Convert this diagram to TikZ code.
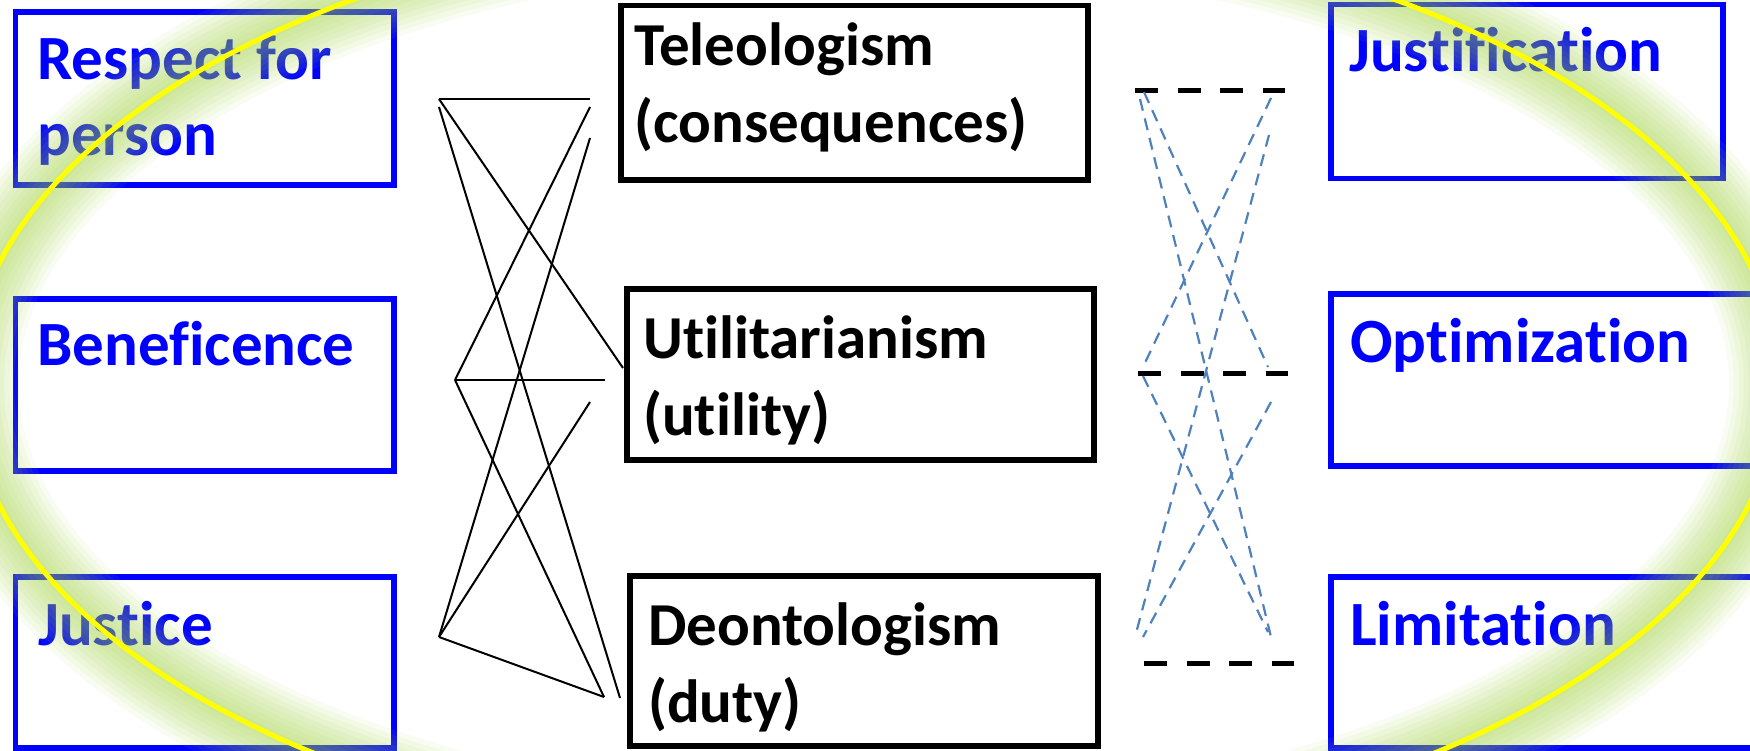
\documentclass[tikz,border=0pt]{standalone}
\usepackage{fontspec}
\setmainfont{Carlito}[Ligatures=NoCommon]
\definecolor{boxblue}{RGB}{0,0,255}
\definecolor{linkblue}{RGB}{79,129,189}
\definecolor{glowgreen}{RGB}{160,210,60}
\definecolor{ringyellow}{RGB}{255,255,0}
\begin{document}
\begin{tikzpicture}[x=1pt,y=-1pt,
  bluebox/.style={draw=boxblue, line width=5.5pt, inner sep=0pt, outer sep=0pt},
  blackbox/.style={draw=black, line width=5.5pt, inner sep=0pt, outer sep=0pt},
  bluetxt/.style={text=boxblue, font=\fontsize{63}{76}\selectfont\bfseries, inner sep=0pt, anchor=base west},
  blacktxt/.style={text=black, font=\fontsize{61}{77}\selectfont\bfseries, inner sep=0pt, anchor=base west},
  link/.style={black, line width=2pt},
  dlink/.style={linkblue, line width=2.2pt, dash pattern=on 12pt off 8pt},
  bar/.style={black, line width=5pt, dash pattern=on 23pt off 19.5pt},
  glow/.style={draw=glowgreen}
]
\useasboundingbox (0,0) rectangle (1750,751);
\fill[white] (0,0) rectangle (1750,751);

% principles (left column)
\node[bluebox, minimum width=378.5pt, minimum height=173pt] (resp) at (204.75,98.5) {};
\node[bluebox, minimum width=378.5pt, minimum height=172pt] (bene) at (204.75,385) {};
\node[bluebox, minimum width=378.5pt, minimum height=171pt] (just) at (204.75,662.5) {};
\node[bluetxt] (resptxt) at (37,80) {\parbox[t]{340pt}{Respect for\\person}};
\node[bluetxt] (benetxt) at (37,365) {Beneficence};
\node[bluetxt] (justtxt) at (38,645) {Justice};

% theories (middle column)
\node[blackbox, minimum width=467pt, minimum height=174.5pt] (tele) at (854.5,92.75) {};
\node[blackbox, minimum width=467pt, minimum height=171pt] (util) at (860.5,374.5) {};
\node[blackbox, minimum width=468pt, minimum height=170pt] (deon) at (864,661) {};
\node[blacktxt] (teletxt) at (634,66) {\parbox[t]{440pt}{Teleologism\\(consequences)}};
\node[blacktxt] (utiltxt) at (643,358) {\parbox[t]{440pt}{Utilitarianism\\(utility)}};
\node[blacktxt] (deontxt) at (648,645) {\parbox[t]{440pt}{Deontologism\\(duty)}};

% outcomes (right column)
\node[bluebox, minimum width=392pt, minimum height=174pt] (justif) at (1527,91.5) {};
\node[bluebox, minimum width=434pt, minimum height=172pt] (optim) at (1548,380) {};
\node[bluebox, minimum width=434pt, minimum height=171pt] (limit) at (1548,662.5) {};
\node[bluetxt] (justiftxt) at (1349,72) {Justification};
\node[bluetxt] (optimtxt) at (1350,362) {Optimization};
\node[bluetxt] (limittxt) at (1350,645) {Limitation};

% end points of the solid links
\coordinate (r1) at (439,99);
\coordinate (r2) at (439,107);
\coordinate (b1) at (455,380);
\coordinate (j1) at (439,637);
\coordinate (t1) at (590,99);
\coordinate (t2) at (590,107);
\coordinate (t3) at (590,138);
\coordinate (u0) at (623,368);
\coordinate (u1) at (605,380);
\coordinate (u2) at (590,402);
\coordinate (d1) at (604,697);
\coordinate (d2) at (620,698);

\draw[link] (r1) -- (t1);
\draw[link] (r1) -- (u0);
\draw[link] (r2) -- (d2);
\draw[link] (b1) -- (u1);
\draw[link] (b1) -- (t2);
\draw[link] (b1) -- (d1);
\draw[link] (j1) -- (t3);
\draw[link] (j1) -- (u2);
\draw[link] (j1) -- (d1);

% dashed bars
\coordinate (ta) at (1135,91);
\coordinate (tb) at (1285,91);
\coordinate (ma) at (1138,373);
\coordinate (mb) at (1288,373);
\coordinate (ba) at (1144,663);
\coordinate (bb) at (1294,663);
\draw[bar] (ta) -- (tb);
\draw[bar] (ma) -- (mb);
\draw[bar] (ba) -- (bb);

% end points of the dashed links
\coordinate (ja) at (1140,99);
\coordinate (jb) at (1144,92);
\coordinate (jc) at (1271,98);
\coordinate (jd) at (1269,135);
\coordinate (oa) at (1268,367);
\coordinate (ob) at (1143,367);
\coordinate (oc) at (1143,376);
\coordinate (od) at (1271,402);
\coordinate (la) at (1271,637);
\coordinate (lb) at (1135,637);
\coordinate (lc) at (1268,632);
\coordinate (ld) at (1143,637);

\draw[dlink] (ja) -- (la);
\draw[dlink] (jb) -- (oa);
\draw[dlink] (jc) -- (ob);
\draw[dlink] (jd) -- (lb);
\draw[dlink] (oc) -- (lc);
\draw[dlink] (od) -- (ld);

% glowing ring
\begin{scope}
\clip (0,0) rectangle (1750,751);
\foreach \w in {100,90,...,10}
  \draw[glow, line width=\w pt, opacity=0.065] (874,384) ellipse [x radius=905pt, y radius=470pt];
\draw[ringyellow, line width=5pt] (874,384) ellipse [x radius=905pt, y radius=470pt];
\end{scope}
\end{tikzpicture}
\end{document}
